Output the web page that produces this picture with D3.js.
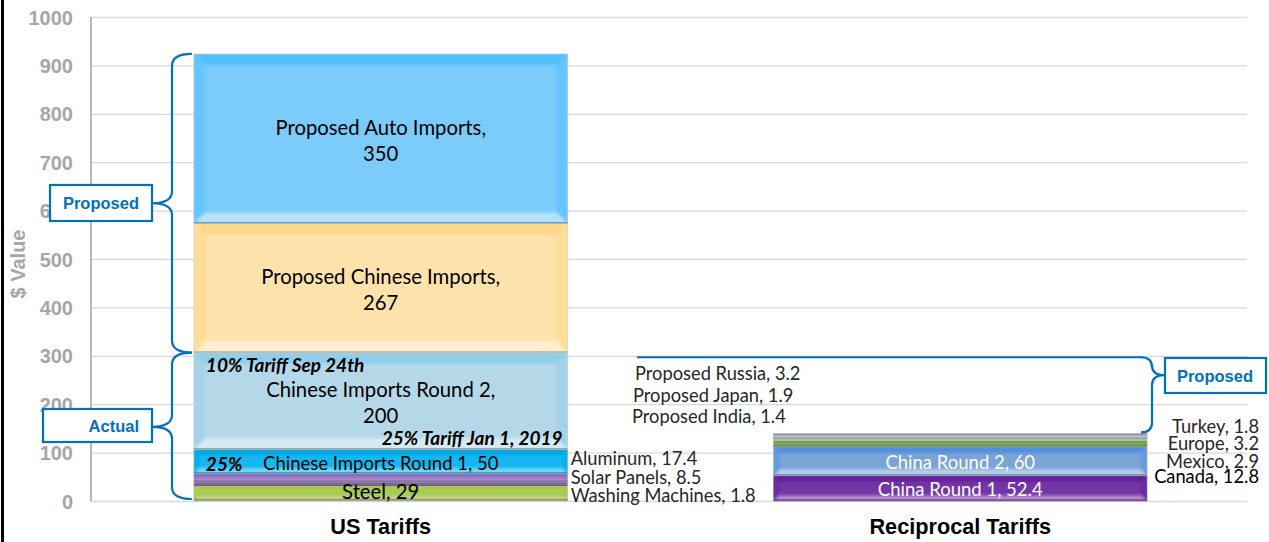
<!DOCTYPE html>
<html>
<head>
<meta charset="utf-8">
<script src="https://cdn.jsdelivr.net/npm/d3@7"></script>
<style>
  html, body { margin: 0; padding: 0; background: #fff; }
  svg { display: block; }
</style>
</head>
<body>
<svg id="chart" width="1269" height="542"></svg>
<script>
// ---- data ----------------------------------------------------------
const categories = ["US Tariffs", "Reciprocal Tariffs"];

// US tariff actions, stacked bottom to top ($ billions)
const usNames = ["Washing Machines", "Steel", "Solar Panels", "Aluminum",
  "Chinese Imports Round 1", "Chinese Imports Round 2",
  "Proposed Chinese Imports", "Proposed Auto Imports"];
const usValues = [1.8, 29, 8.5, 17.4, 50, 200, 267, 350];

// Retaliatory tariffs, stacked bottom to top ($ billions)
const recNames = ["China Round 1", "China Round 2", "Canada", "Mexico", "Europe",
  "Turkey", "Proposed India", "Proposed Japan", "Proposed Russia"];
const recValues = [52.4, 60, 12.8, 2.9, 3.2, 1.8, 1.4, 1.9, 3.2];

const yTickValues = [0, 100, 200, 300, 400, 500, 600, 700, 800, 900, 1000];

// ---- styling -------------------------------------------------------
const usColors = ["#c0504d", "#a9c95a", "#8064a2", "#9a7cc0",
  "#14b7ef", "#b5d8e9", "#fde2ac", "#7bcbfb"];
const recColors = ["#7435a6", "#7aa4d8", "#77a446", "#c3d69b", "#3fc3e3",
  "#a5a5a5", "#c7a8d8", "#c4bd97", "#9d86b8"];

const W = 1269, H = 542;
const svg = d3.select("#chart");

const x = d3.scaleBand().domain(categories).range([91, 1250]).padding(0);
const y = d3.scaleLinear().domain([0, 1000]).range([501, 17]);
const barW = x.bandwidth() * 0.645;

// frame line on the left edge
svg.append("rect").attr("x", 1).attr("y", 0).attr("width", 3).attr("height", H).attr("fill", "#000");

// gridlines
const grid = svg.append("g").attr("transform", "translate(91,0)")
  .call(d3.axisLeft(y).tickValues(yTickValues).tickSize(-(1247 - 91)).tickFormat(""));
grid.select(".domain").remove();
grid.selectAll(".tick line").attr("stroke", "#d9d9d9").attr("stroke-width", 1.3);

// y axis labels
const yAxis = svg.append("g").attr("transform", "translate(73,0)")
  .call(d3.axisLeft(y).tickValues(yTickValues).tickSize(0).tickPadding(0).tickFormat(d3.format("d")));
yAxis.select(".domain").remove();
yAxis.selectAll("text")
  .attr("font-family", "'Liberation Sans', Arial, sans-serif")
  .attr("font-weight", "bold").attr("font-size", 20).attr("fill", "#a6a6a6")
  .attr("dy", "0.35em");

// vertical axis line
svg.append("line").attr("x1", 91).attr("x2", 91).attr("y1", y(1000)).attr("y2", y(0))
  .attr("stroke", "#a6a6a6").attr("stroke-width", 1.6);

// axis title
svg.append("text").attr("transform", `translate(25,${(y(0) + y(1000)) / 2 + 5}) rotate(-90)`)
  .attr("text-anchor", "middle")
  .attr("font-family", "'Liberation Sans', Arial, sans-serif")
  .attr("font-weight", "bold").attr("font-size", 20).attr("fill", "#a6a6a6")
  .text("$ Value");

// category labels
svg.append("g").selectAll("text").data(categories).join("text")
  .attr("x", d => x(d) + x.bandwidth() / 2)
  .attr("y", 534)
  .attr("text-anchor", "middle")
  .attr("font-family", "'Liberation Sans', Arial, sans-serif")
  .attr("font-weight", "bold").attr("font-size", 21.7).attr("fill", "#000")
  .text(d => d);

// ---- stacked bars with a bevelled look ------------------------------
function stackOf(names, values, colors) {
  let acc = 0;
  return names.map((n, i) => {
    const s = { name: n, value: values[i], color: colors[i], y0: acc, y1: acc + values[i] };
    acc += values[i];
    return s;
  });
}
const usStack = stackOf(usNames, usValues, usColors);
const recStack = stackOf(recNames, recValues, recColors);

const defs = svg.append("defs");
defs.append("filter").attr("id", "soft").attr("x", "-5%").attr("y", "-5%")
  .attr("width", "110%").attr("height", "110%")
  .append("feGaussianBlur").attr("stdDeviation", 1.6);

function mix(c, target, t) { return d3.interpolateRgb(c, target)(t); }
function deepen(c, dl, ds) {
  const h = d3.hsl(c);
  h.l = Math.max(0, h.l - dl);
  h.s = Math.min(1, h.s + ds);
  return h.formatHex();
}

function drawStack(cat, stack, key) {
  const x0 = x(cat) + (x.bandwidth() - barW) / 2;
  const g = svg.append("g");
  stack.forEach((s, i) => {
    const top = y(s.y1), bot = y(s.y0), h = bot - top, w = barW;
    const sg = g.append("g");
    const clipId = `clip-${key}-${i}`;
    defs.append("clipPath").attr("id", clipId)
      .append("rect").attr("x", x0).attr("y", top).attr("width", w).attr("height", h);
    sg.append("rect").attr("x", x0).attr("y", top).attr("width", w).attr("height", h)
      .attr("fill", s.color);
    const b = Math.min(11, h * 0.22);
    if (b > 1.2) {
      const bev = sg.append("g").attr("clip-path", `url(#${clipId})`)
        .append("g").attr("filter", "url(#soft)");
      const poly = (pts, fill) => bev.append("polygon")
        .attr("points", pts.map(p => p.join(",")).join(" ")).attr("fill", fill);
      poly([[x0, top], [x0 + w, top], [x0 + w - b, top + b], [x0 + b, top + b]], deepen(s.color, 0.07, 0.15));
      poly([[x0, bot], [x0 + w, bot], [x0 + w - b, bot - b], [x0 + b, bot - b]], mix(s.color, "#ffffff", 0.45));
      poly([[x0, top], [x0 + b, top + b], [x0 + b, bot - b], [x0, bot]], deepen(s.color, 0.035, 0.08));
      poly([[x0 + w, top], [x0 + w - b, top + b], [x0 + w - b, bot - b], [x0 + w, bot]], deepen(s.color, 0.035, 0.08));
    }
    // thin shaded rim along the lower edge of each segment
    sg.append("line").attr("x1", x0).attr("x2", x0 + w).attr("y1", bot - 0.6).attr("y2", bot - 0.6)
      .attr("stroke", mix(s.color, "#000", 0.35)).attr("stroke-width", Math.min(1.6, h * 0.3))
      .attr("stroke-opacity", 0.7);
    sg.append("rect").attr("x", x0).attr("y", top).attr("width", w).attr("height", h)
      .attr("fill", "none").attr("stroke", "#bfbfbf").attr("stroke-opacity", 0.5).attr("stroke-width", 0.8);
  });
  return x0;
}
const usX0 = drawStack(categories[0], usStack, "us");
const recX0 = drawStack(categories[1], recStack, "rec");

// ---- labels ---------------------------------------------------------
const labelFont = "Lato, 'Open Sans', sans-serif";
const cx = c => x(c) + x.bandwidth() / 2;
const mid = s => (y(s.y0) + y(s.y1)) / 2;
const byName = (stack, n) => stack.find(s => s.name === n);

function label(text, px, py, opts = {}) {
  svg.append("text").attr("x", px).attr("y", py)
    .attr("text-anchor", opts.anchor || "middle")
    .attr("dominant-baseline", "central")
    .attr("font-family", opts.family || labelFont)
    .attr("font-size", opts.size || 20.3)
    .attr("font-weight", opts.weight || "normal")
    .attr("font-style", opts.style || "normal")
    .attr("fill", opts.fill || "#000")
    .text(text);
}

// two-line labels inside the large US segments
["Proposed Auto Imports", "Proposed Chinese Imports", "Chinese Imports Round 2"].forEach(n => {
  const s = byName(usStack, n);
  label(`${s.name},`, cx(categories[0]), mid(s) - 12);
  label(`${s.value}`, cx(categories[0]), mid(s) + 14);
});
const round1 = byName(usStack, "Chinese Imports Round 1");
label(`${round1.name}, ${round1.value}`, cx(categories[0]), mid(round1) + 2, { size: 18.5 });
const steel = byName(usStack, "Steel");
label(`${steel.name}, ${steel.value}`, cx(categories[0]), mid(steel) - 2);

// tariff-rate notes
const noteOpts = { weight: "bold", style: "italic", size: 19, family: "Lato, 'Open Sans', sans-serif" };
const r2 = byName(usStack, "Chinese Imports Round 2");
label("10% Tariff Sep 24th", usX0 + 12, y(r2.y1) + 12, { ...noteOpts, anchor: "start" });
label("25% Tariff Jan 1, 2019", usX0 + barW - 5, y(r2.y0) - 12, { ...noteOpts, anchor: "end" });
label("25%", usX0 + 12, mid(round1) + 2, { ...noteOpts, anchor: "start" });

// small US segments labelled to the right of the bar (value-axis slots)
const usSideSlots = { "Aluminum": 88, "Solar Panels": 49, "Washing Machines": 12 };
Object.entries(usSideSlots).forEach(([n, v]) => {
  const s = byName(usStack, n);
  label(`${s.name}, ${s.value}`, usX0 + barW + 3, y(v), { anchor: "start", size: 18.3, fill: "#262626" });
});

// reciprocal bar
["China Round 2", "China Round 1"].forEach(n => {
  const s = byName(recStack, n);
  label(`${s.name}, ${s.value}`, cx(categories[1]), mid(s) + 1, { fill: "#fff", size: 18.5 });
});
const recRightSlots = { "Turkey": 154, "Europe": 120, "Mexico": 82, "Canada": 51 };
Object.entries(recRightSlots).forEach(([n, v]) => {
  const s = byName(recStack, n);
  label(`${s.name}, ${s.value}`, 1259, y(v), { anchor: "end", size: 18.3, fill: n === "Canada" ? "#000" : "#262626" });
});
const recLeftSlots = { "Proposed Russia": [265, 635], "Proposed Japan": [219, 633], "Proposed India": [175, 632] };
Object.entries(recLeftSlots).forEach(([n, [v, px]]) => {
  const s = byName(recStack, n);
  label(`${s.name}, ${s.value}`, px, y(v), { anchor: "start", size: 18.3, fill: "#262626" });
});

// ---- braces and callout boxes ---------------------------------------
const blue = "#0070c0";
function brace(xEnd, xLine, xTip, yTop, yTip, yBot, r) {
  const p = d3.path();
  p.moveTo(xEnd, yTop);
  p.quadraticCurveTo(xLine, yTop, xLine, yTop + r);
  p.lineTo(xLine, yTip - r);
  p.quadraticCurveTo(xLine, yTip, xTip, yTip);
  p.quadraticCurveTo(xLine, yTip, xLine, yTip + r);
  p.lineTo(xLine, yBot - r);
  p.quadraticCurveTo(xLine, yBot, xEnd, yBot);
  svg.append("path").attr("d", p.toString()).attr("fill", "none")
    .attr("stroke", blue).attr("stroke-width", 2.2);
}
function callout(text, bx, by, bw, bh) {
  svg.append("rect").attr("x", bx).attr("y", by).attr("width", bw).attr("height", bh)
    .attr("fill", "#fff").attr("stroke", blue).attr("stroke-width", 2.2);
  svg.append("text").attr("x", bx + bw - 13).attr("y", by + bh / 2)
    .attr("text-anchor", "end").attr("dominant-baseline", "central")
    .attr("font-family", "'Liberation Sans', Arial, sans-serif")
    .attr("font-weight", "bold").attr("font-size", 16.5).attr("fill", blue)
    .text(text);
}

const usTop = y(d3.sum(usValues));
const actualTop = y(byName(usStack, "Chinese Imports Round 2").y1);
brace(usX0 - 2, 172, 152, usTop, (usTop + actualTop) / 2, actualTop, 12);
brace(usX0 - 2, 172, 152, actualTop, (actualTop + y(0)) / 2, y(0) - 2, 12);
callout("Proposed", 50, 185, 102, 36);
callout("Actual", 43, 409, 109, 33);

// right-hand brace with its top arm reaching back over the gap
const recTop = y(d3.sum(recValues));
const armY = y(297);
svg.append("line").attr("x1", 637).attr("x2", 1142).attr("y1", armY).attr("y2", armY)
  .attr("stroke", blue).attr("stroke-width", 2.2);
brace(1141, 1152, 1164, armY, armY + 18, recTop - 1, 10);
callout("Proposed", 1165, 358, 101, 35);
</script>
</body>
</html>
